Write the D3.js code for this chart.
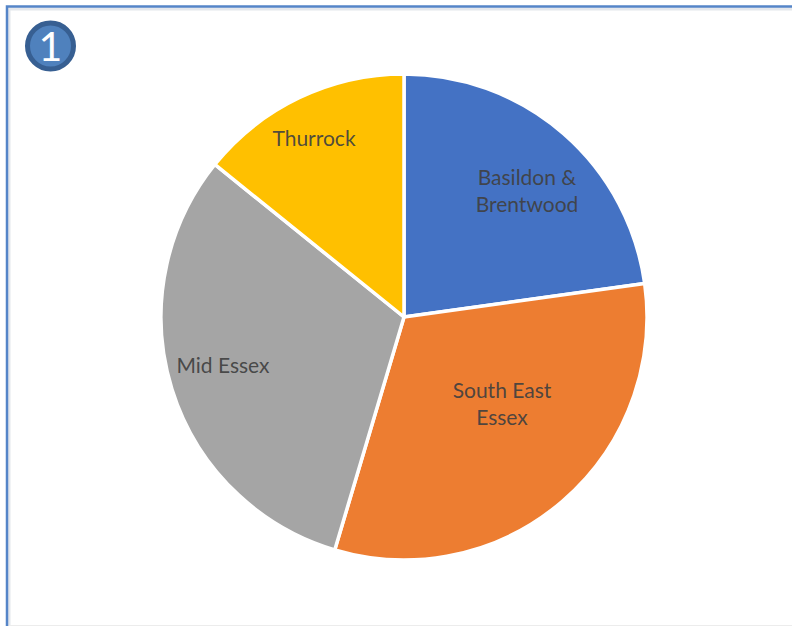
<!DOCTYPE html>
<html>
<head>
<meta charset="utf-8">
<script src="https://cdn.jsdelivr.net/npm/d3@7"></script>
<style>
html,body{margin:0;padding:0;background:#fff}
svg{display:block}
text{font-family:Lato,"Open Sans",sans-serif}
</style>
</head>
<body>
<svg id="chart" width="792" height="626"></svg>
<script>
// Share of activity by locality
const categories = ["Basildon & Brentwood", "South East Essex", "Mid Essex", "Thurrock"];
const values = [22.8, 31.8, 31.2, 14.2];
const labelLines = [["Basildon &", "Brentwood"], ["South East", "Essex"], ["Mid Essex"], ["Thurrock"]];
const colours = ["#4472c4", "#ed7d31", "#a5a5a5", "#ffc000"];
const labelPositions = [[527, 191], [502, 404], [223, 366], [314, 139]];

const svg = d3.select("#chart");
const cx = 404, cy = 317, radius = 243;

// Frame around the panel: pale inner shadow beneath a blue rule
svg.append("path").attr("d", "M9 626V9H792").attr("fill", "none")
  .attr("stroke", "#e4e7ec").attr("stroke-width", 3);
svg.append("path").attr("d", "M7 626V6.5H792").attr("fill", "none")
  .attr("stroke", "#5585c8").attr("stroke-width", 2.5);
svg.append("line").attr("x1", 9).attr("x2", 792).attr("y1", 625.5).attr("y2", 625.5)
  .attr("stroke", "#ececec");

// Numbered badge
const badge = svg.append("g").attr("transform", "translate(50.5,46)");
badge.append("circle").attr("r", 23).attr("fill", "#4f81bd")
  .attr("stroke", "#375f92").attr("stroke-width", 5);
badge.append("text").attr("text-anchor", "middle").attr("y", 15)
  .attr("font-size", 41).attr("fill", "#fff").text("1");

const pie = d3.pie().sort(null).value(d => d)(values);
const arc = d3.arc().innerRadius(0).outerRadius(radius);

const g = svg.append("g").attr("transform", `translate(${cx},${cy})`);
g.selectAll("path").data(pie).join("path")
  .attr("d", arc)
  .attr("fill", (d, i) => colours[i])
  .attr("stroke", "#fff")
  .attr("stroke-width", 3.5)
  .attr("stroke-linejoin", "round");

const lineHeight = 27;
const labels = svg.append("g").attr("text-anchor", "middle")
  .attr("font-size", 21).attr("fill", "#404040").attr("fill-opacity", 0.92);
labelLines.forEach((lines, i) => {
  const [x, y] = labelPositions[i];
  const t = labels.append("text").attr("x", x).attr("y", y);
  lines.forEach((line, j) => {
    t.append("tspan").attr("x", x)
      .attr("y", y + (j - (lines.length - 1) / 2) * lineHeight + 7)
      .text(line);
  });
});
</script>
</body>
</html>
